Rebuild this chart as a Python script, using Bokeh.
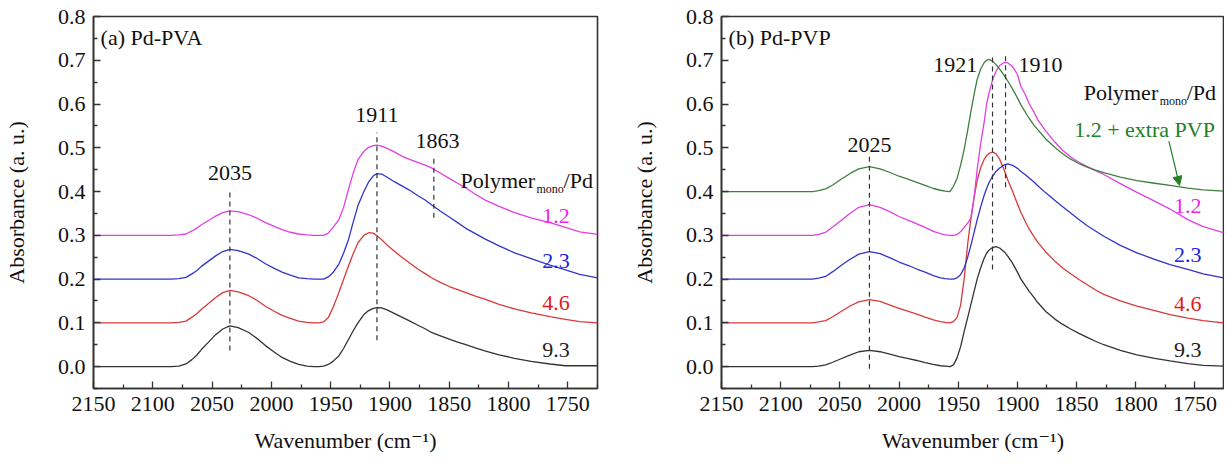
from bokeh.plotting import figure
from bokeh.layouts import row
from bokeh.models import Range1d, FixedTicker, NumeralTickFormatter, Label, Arrow, NormalHead
from bokeh.embed import file_html
from bokeh.resources import INLINE

FONT = "'Liberation Serif', 'Times New Roman', 'DejaVu Serif', serif"

# ---------------- Panel (a) Pd-PVA ----------------
wn_a = [2150, 2100, 2085, 2078, 2072, 2067, 2063, 2059, 2053, 2047, 2041, 2035, 2028, 2019,
        2012, 2005, 1998, 1991, 1984, 1977, 1970, 1964, 1960,
        1956, 1952, 1948, 1943, 1939, 1935, 1931, 1927, 1922, 1918, 1914, 1911, 1907, 1902,
        1896, 1890, 1884, 1876, 1870, 1865, 1858, 1850, 1843, 1836, 1828, 1820, 1808, 1795,
        1781, 1765, 1752, 1740, 1725]
a_93 = [0.0, 0.0, 0.0, 0.001, 0.006, 0.016, 0.026, 0.039, 0.056, 0.073, 0.086, 0.093, 0.089, 0.078,
        0.064, 0.048, 0.034, 0.021, 0.012, 0.005, 0.001, 0.0, 0.0,
        0.001, 0.005, 0.012, 0.025, 0.042, 0.062, 0.082, 0.100, 0.119, 0.128, 0.133, 0.135, 0.134, 0.129,
        0.121, 0.113, 0.105, 0.094, 0.086, 0.078, 0.071, 0.063, 0.056, 0.050, 0.043, 0.036, 0.027, 0.019,
        0.012, 0.006, 0.002, 0.002, 0.002]
a_46 = [0.1, 0.1, 0.1, 0.101, 0.104, 0.113, 0.121, 0.131, 0.144, 0.158, 0.169, 0.174, 0.171, 0.162,
        0.151, 0.138, 0.127, 0.117, 0.110, 0.104, 0.101, 0.100, 0.100,
        0.102, 0.112, 0.135, 0.170, 0.200, 0.230, 0.258, 0.283, 0.300, 0.306, 0.305, 0.299, 0.290, 0.277,
        0.263, 0.250, 0.238, 0.222, 0.212, 0.203, 0.193, 0.183, 0.176, 0.169, 0.161, 0.154, 0.142, 0.132,
        0.123, 0.114, 0.108, 0.103, 0.100]
a_23 = [0.2, 0.2, 0.2, 0.201, 0.204, 0.212, 0.219, 0.229, 0.241, 0.253, 0.263, 0.268, 0.265, 0.257,
        0.247, 0.235, 0.225, 0.216, 0.209, 0.203, 0.201, 0.200, 0.200,
        0.200, 0.205, 0.215, 0.235, 0.260, 0.290, 0.330, 0.368, 0.400, 0.422, 0.436, 0.441, 0.440, 0.432,
        0.422, 0.413, 0.404, 0.390, 0.380, 0.370, 0.356, 0.342, 0.329, 0.316, 0.304, 0.292, 0.276, 0.260,
        0.247, 0.232, 0.221, 0.211, 0.203]
a_12 = [0.3, 0.3, 0.3, 0.301, 0.303, 0.310, 0.316, 0.324, 0.334, 0.344, 0.352, 0.356, 0.354, 0.347,
        0.339, 0.329, 0.321, 0.313, 0.307, 0.303, 0.301, 0.300, 0.300,
        0.300, 0.305, 0.318, 0.336, 0.365, 0.405, 0.442, 0.473, 0.492, 0.501, 0.505, 0.506, 0.504, 0.498,
        0.490, 0.481, 0.474, 0.466, 0.460, 0.454, 0.443, 0.430, 0.419, 0.408, 0.394, 0.381, 0.366, 0.352,
        0.340, 0.329, 0.318, 0.308, 0.302]

# ---------------- Panel (b) Pd-PVP ----------------
wn_b = [2150, 2100, 2080, 2073, 2068, 2062, 2056, 2049, 2041, 2034, 2025, 2016, 2007, 2000,
        1992, 1985, 1978, 1971, 1965, 1961, 1957,
        1954, 1951, 1948, 1945, 1942, 1939, 1936, 1934, 1931, 1928, 1926, 1924, 1921, 1918,
        1915, 1911, 1908, 1904, 1900, 1897, 1893, 1890, 1886, 1883, 1876, 1868, 1862, 1855,
        1848, 1841, 1834, 1827, 1813, 1799, 1784, 1771, 1756, 1743, 1726]
b_93 = [0.0, 0.0, 0.0, 0.0, 0.001, 0.004, 0.010, 0.018, 0.027, 0.034, 0.037, 0.034, 0.028, 0.023,
        0.018, 0.014, 0.009, 0.005, 0.002, 0.001, 0.0,
        0.004, 0.020, 0.045, 0.080, 0.112, 0.145, 0.178, 0.200, 0.226, 0.248, 0.259, 0.266, 0.272, 0.274,
        0.271, 0.262, 0.252, 0.236, 0.216, 0.200, 0.184, 0.172, 0.158, 0.147, 0.126, 0.108, 0.097, 0.086,
        0.076, 0.067, 0.058, 0.050, 0.037, 0.027, 0.019, 0.013, 0.007, 0.003, 0.001]
b_46 = [0.1, 0.1, 0.1, 0.1, 0.102, 0.105, 0.114, 0.126, 0.139, 0.148, 0.153, 0.149, 0.140, 0.133,
        0.126, 0.120, 0.113, 0.107, 0.103, 0.101, 0.100,
        0.103, 0.112, 0.140, 0.200, 0.280, 0.345, 0.395, 0.425, 0.455, 0.474, 0.482, 0.487, 0.490, 0.486,
        0.474, 0.448, 0.426, 0.400, 0.372, 0.352, 0.330, 0.314, 0.297, 0.285, 0.262, 0.240, 0.226, 0.212,
        0.199, 0.187, 0.175, 0.165, 0.150, 0.138, 0.128, 0.119, 0.111, 0.105, 0.100]
b_23 = [0.2, 0.2, 0.2, 0.2, 0.202, 0.206, 0.217, 0.231, 0.246, 0.257, 0.263, 0.258, 0.248, 0.239,
        0.231, 0.223, 0.216, 0.208, 0.203, 0.201, 0.200,
        0.200, 0.203, 0.210, 0.225, 0.250, 0.280, 0.313, 0.335, 0.365, 0.392, 0.407, 0.420, 0.435, 0.446,
        0.454, 0.461, 0.463, 0.460, 0.453, 0.446, 0.438, 0.431, 0.422, 0.414, 0.397, 0.379, 0.366, 0.351,
        0.336, 0.322, 0.310, 0.298, 0.277, 0.260, 0.245, 0.233, 0.222, 0.212, 0.203]
b_12 = [0.3, 0.3, 0.3, 0.3, 0.302, 0.307, 0.319, 0.334, 0.351, 0.364, 0.370, 0.364, 0.353, 0.343,
        0.334, 0.326, 0.318, 0.309, 0.304, 0.301, 0.300,
        0.300, 0.302, 0.308, 0.318, 0.328, 0.340, 0.400, 0.450, 0.510, 0.560, 0.600, 0.625, 0.655, 0.675,
        0.688, 0.695, 0.694, 0.685, 0.668, 0.640, 0.620, 0.600, 0.582, 0.565, 0.538, 0.512, 0.495, 0.479,
        0.467, 0.457, 0.448, 0.439, 0.418, 0.398, 0.378, 0.360, 0.336, 0.320, 0.306]
b_12x = [0.4, 0.4, 0.4, 0.4, 0.402, 0.406, 0.415, 0.428, 0.442, 0.452, 0.457, 0.452, 0.443, 0.435,
         0.428, 0.421, 0.414, 0.407, 0.403, 0.401, 0.400,
         0.412, 0.430, 0.460, 0.496, 0.540, 0.587, 0.630, 0.656, 0.680, 0.695, 0.700, 0.702, 0.698, 0.690,
         0.680, 0.665, 0.652, 0.634, 0.614, 0.598, 0.580, 0.567, 0.552, 0.542, 0.520, 0.500, 0.487, 0.474,
         0.464, 0.456, 0.449, 0.443, 0.433, 0.425, 0.419, 0.414, 0.408, 0.404, 0.401]

# peak markers (wavenumber, y from, y to)
peaks_a = [2035, 1911, 1863]
peaks_a_y0 = [0.037, 0.060, 0.340]
peaks_a_y1 = [0.405, 0.535, 0.480]
peaks_b = [2025, 1921, 1910]
peaks_b_y0 = [-0.005, 0.222, 0.410]
peaks_b_y1 = [0.480, 0.710, 0.713]

ratio_labels = ["1.2", "2.3", "4.6", "9.3"]
ratio_label_y_a = [0.345, 0.242, 0.146, 0.039]
ratio_label_y_b = [0.368, 0.256, 0.142, 0.037]

y_ticks = [0.0, 0.1, 0.2, 0.3, 0.4, 0.5, 0.6, 0.7, 0.8]
y_minor = [-0.05, 0.05, 0.15, 0.25, 0.35, 0.45, 0.55, 0.65, 0.75]
x_ticks = [2150, 2100, 2050, 2000, 1950, 1900, 1850, 1800, 1750]
x_minor = [2125, 2075, 2025, 1975, 1925, 1875, 1825, 1775, 1725]

LINE = {"1.2": "#e040e0", "2.3": "#3333cc", "4.6": "#d83a3a", "9.3": "#333333", "x": "#3f7f3f"}
TEXT = {"1.2": "#ee22ee", "2.3": "#2222dd", "4.6": "#e01a24", "9.3": "#222222", "x": "#238023"}


def make_fig(border_left, frame_w, x_end, border_right):
    p = figure(frame_width=frame_w, frame_height=372,
               min_border_left=border_left, min_border_right=border_right,
               min_border_top=16, min_border_bottom=73,
               x_range=Range1d(2150, x_end), y_range=Range1d(-0.05, 0.8),
               output_backend="svg", toolbar_location=None, tools="")
    p.xgrid.visible = False
    p.ygrid.visible = False
    p.outline_line_color = "#333333"
    p.outline_line_width = 1.6
    p.background_fill_color = "white"
    p.border_fill_color = "white"
    for ax in (p.xaxis[0], p.yaxis[0]):
        ax.axis_line_color = "#333333"
        ax.axis_line_width = 1.6
        ax.major_tick_line_color = "#333333"
        ax.minor_tick_line_color = "#333333"
        ax.major_tick_line_width = 1.3
        ax.minor_tick_line_width = 1.3
        ax.major_tick_in = 7
        ax.major_tick_out = 0
        ax.minor_tick_in = 4
        ax.minor_tick_out = 0
        ax.major_label_text_font = FONT
        ax.major_label_text_font_size = "22px"
        ax.major_label_text_color = "#111111"
        ax.axis_label_text_font = FONT
        ax.axis_label_text_font_size = "22px"
        ax.axis_label_text_font_style = "normal"
        ax.axis_label_text_color = "#111111"
    p.yaxis.ticker = FixedTicker(ticks=y_ticks, minor_ticks=y_minor)
    p.yaxis.formatter = NumeralTickFormatter(format="0.0")
    p.xaxis.ticker = FixedTicker(ticks=x_ticks, minor_ticks=x_minor)
    p.yaxis.axis_label = "Absorbance (a. u.)"
    p.xaxis.axis_label = "Wavenumber (cm\u207b\u00b9)"
    p.yaxis.major_label_standoff = 8
    p.yaxis.axis_label_standoff = 26
    p.xaxis.major_label_standoff = 8
    p.xaxis.axis_label_standoff = 14
    return p


def lab(p, text, x, y, color="#111111", size="22px", align="center", baseline="middle", x_off=0, y_off=0):
    p.add_layout(Label(x=x, y=y, text=text, text_font=FONT, text_font_size=size,
                       text_color=color, text_align=align, text_baseline=baseline,
                       x_offset=x_off, y_offset=y_off))


# ---- figure a ----
pa = make_fig(87, 504, 1725, 11)
for ys, key in ((a_93, "9.3"), (a_46, "4.6"), (a_23, "2.3"), (a_12, "1.2")):
    pa.line(wn_a, ys, line_color=LINE[key], line_width=1.3, line_join="round")
pa.segment(x0=peaks_a, y0=peaks_a_y0, x1=peaks_a, y1=peaks_a_y1,
           line_color="#333333", line_width=1.2, line_dash="5 4")
lab(pa, "(a) Pd-PVA", 2144, 0.752, align="left")
lab(pa, "2035", 2035, 0.443)
lab(pa, "1911", 1911, 0.576)
lab(pa, "1863", 1860, 0.516)
lab(pa, "Polymer", 1840.5, 0.425, align="left", baseline="alphabetic")
lab(pa, "mono", 1840.5, 0.425, size="12px", align="left", baseline="alphabetic", x_off=76, y_off=-8)
lab(pa, "/Pd", 1840.5, 0.425, align="left", baseline="alphabetic", x_off=103)
for t, yv in zip(ratio_labels, ratio_label_y_a):
    lab(pa, t, 1760, yv, color=TEXT[t])

# ---- figure b ----
pb = make_fig(113, 503, 1725, 0)
for ys, key in ((b_93, "9.3"), (b_46, "4.6"), (b_23, "2.3"), (b_12, "1.2"), (b_12x, "x")):
    pb.line(wn_b, ys, line_color=LINE[key], line_width=1.3, line_join="round")
pb.segment(x0=peaks_b, y0=peaks_b_y0, x1=peaks_b, y1=peaks_b_y1,
           line_color="#333333", line_width=1.2, line_dash="5 4")
lab(pb, "(b) Pd-PVP", 2144, 0.752, align="left")
lab(pb, "2025", 2025, 0.507)
lab(pb, "1921", 1934, 0.69, align="right")
lab(pb, "1910", 1899, 0.69, align="left")
lab(pb, "Polymer", 1844, 0.626, align="left", baseline="alphabetic")
lab(pb, "mono", 1844, 0.626, size="12px", align="left", baseline="alphabetic", x_off=76, y_off=-8)
lab(pb, "/Pd", 1844, 0.626, align="left", baseline="alphabetic", x_off=103)
lab(pb, "1.2 + extra PVP", 1852, 0.542, color=TEXT["x"], align="left")
pb.add_layout(Arrow(end=NormalHead(size=9, fill_color=TEXT["x"], line_color=TEXT["x"]),
                    x_start=1772, y_start=0.515, x_end=1763, y_end=0.414,
                    line_color=TEXT["x"], line_width=1.2))
for t, yv in zip(ratio_labels, ratio_label_y_b):
    lab(pb, t, 1756, yv, color=TEXT[t])

layout = row(pa, pb, spacing=0)
open("out.html", "w").write(file_html(layout, INLINE))
